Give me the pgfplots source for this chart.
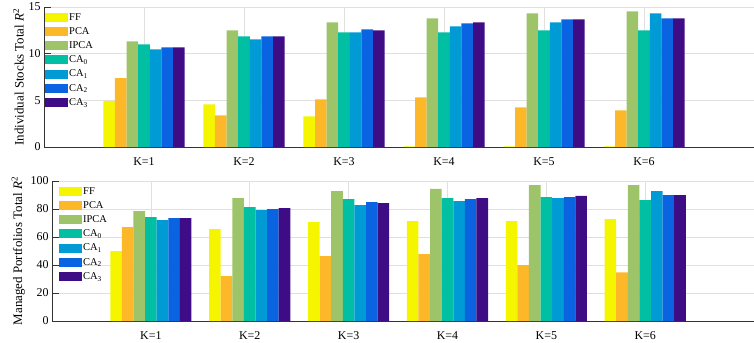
\documentclass[border=0pt]{standalone}
\usepackage{fontspec}
\setmainfont{Liberation Serif}
\usepackage{pgfplots}
\pgfplotsset{compat=1.18}
\definecolor{cFF}{RGB}{245,245,0}
\definecolor{cPCA}{RGB}{253,184,42}
\definecolor{cIPCA}{RGB}{158,196,106}
\definecolor{cCA0}{RGB}{0,191,163}
\definecolor{cCA1}{RGB}{0,155,212}
\definecolor{cCA2}{RGB}{10,100,225}
\definecolor{cCA3}{RGB}{62,13,134}
\pgfplotsset{
  mybars/.style={
    scale only axis,
    xmin=0, xmax=7.1,
    ymin=0,
    axis x line*=bottom, axis y line*=left,
    axis line style={-, color=black!80, line width=0.8pt},
    xtick={1,2,3,4,5,6},
    xticklabels={K=1,K=2,K=3,K=4,K=5,K=6},
    xtick style={draw=none},
    ytick style={color=black!80, line width=0.8pt},
    major tick length=7bp,
    tick align=inside,
    grid=major,
    major grid style={color=black!12, line width=0.6pt},
    /pgf/number format/assume math mode=true,
    tick label style={font=\fontsize{12}{14}\selectfont},
    ylabel style={font=\fontsize{13}{15}\selectfont, anchor=center},
    legend style={draw=none, fill=none, font=\fontsize{10.5}{12}\selectfont,
      at={(0,1)}, anchor=north west, xshift=0bp, yshift=-4bp,
      row sep=3.8bp, inner sep=1bp,
      nodes={inner sep=1bp}},
    legend cell align=left,
    ybar, bar width=11.6bp,
    every axis plot post/.append style={draw=none,
      legend image code/.code={\fill[##1] (0bp,-4.5bp) rectangle (23bp,4.5bp);}},
  },
}
\begin{document}
\begin{tikzpicture}
\useasboundingbox (0,0) rectangle (754bp,-343bp);
\begin{axis}[mybars,
  at={(44bp,-147bp)}, anchor=south west,
  width=710bp, height=140bp,
  ymax=15, ytick={0,5,10,15},
  ylabel={Individual Stocks Total \textit{R}\textsuperscript{2}},
  ylabel style={at={(axis description cs:-0.036,0.5)}},
]
\addplot[fill=cFF, bar shift=-34.8bp] coordinates {(1,4.93) (2,4.57) (3,3.29) (4,0.08) (5,0.08) (6,0.08)};
\addplot[fill=cPCA, bar shift=-23.2bp] coordinates {(1,7.39) (2,3.39) (3,5.10) (4,5.32) (5,4.25) (6,3.93)};
\addplot[fill=cIPCA, bar shift=-11.6bp] coordinates {(1,11.32) (2,12.50) (3,13.36) (4,13.79) (5,14.32) (6,14.54)};
\addplot[fill=cCA0, bar shift=0bp] coordinates {(1,11.00) (2,11.86) (3,12.29) (4,12.29) (5,12.50) (6,12.50)};
\addplot[fill=cCA1, bar shift=11.6bp] coordinates {(1,10.46) (2,11.54) (3,12.29) (4,12.93) (5,13.36) (6,14.32)};
\addplot[fill=cCA2, bar shift=23.2bp] coordinates {(1,10.68) (2,11.86) (3,12.60) (4,13.25) (5,13.68) (6,13.79)};
\addplot[fill=cCA3, bar shift=34.8bp] coordinates {(1,10.68) (2,11.86) (3,12.50) (4,13.36) (5,13.68) (6,13.79)};
\legend{FF,PCA,IPCA,CA\textsubscript{0},CA\textsubscript{1},CA\textsubscript{2},CA\textsubscript{3}}
\end{axis}
\begin{axis}[mybars,
  at={(52bp,-321bp)}, anchor=south west,
  width=702bp, height=140bp,
  ymax=100, ytick={0,20,40,60,80,100},
  ylabel={Managed Portfolios Total \textit{R}\textsuperscript{2}},
  ylabel style={at={(axis description cs:-0.048,0.5)}},
  legend style={xshift=6bp},
]
\addplot[fill=cFF, bar shift=-34.8bp] coordinates {(1,49.9) (2,65.6) (3,70.6) (4,71.4) (5,71.4) (6,72.8)};
\addplot[fill=cPCA, bar shift=-23.2bp] coordinates {(1,67.1) (2,32.0) (3,46.3) (4,47.7) (5,39.9) (6,34.8)};
\addplot[fill=cIPCA, bar shift=-11.6bp] coordinates {(1,78.5) (2,87.8) (3,92.8) (4,94.3) (5,97.1) (6,97.1)};
\addplot[fill=cCA0, bar shift=0bp] coordinates {(1,74.2) (2,81.4) (3,87.1) (4,87.8) (5,88.5) (6,86.4)};
\addplot[fill=cCA1, bar shift=11.6bp] coordinates {(1,72.1) (2,79.2) (3,82.8) (4,85.7) (5,87.8) (6,92.8)};
\addplot[fill=cCA2, bar shift=23.2bp] coordinates {(1,73.5) (2,80.0) (3,85.0) (4,87.1) (5,88.5) (6,90.0)};
\addplot[fill=cCA3, bar shift=34.8bp] coordinates {(1,73.5) (2,80.7) (3,84.2) (4,87.8) (5,89.3) (6,90.0)};
\legend{FF,PCA,IPCA,CA\textsubscript{0},CA\textsubscript{1},CA\textsubscript{2},CA\textsubscript{3}}
\end{axis}
\end{tikzpicture}
\end{document}
